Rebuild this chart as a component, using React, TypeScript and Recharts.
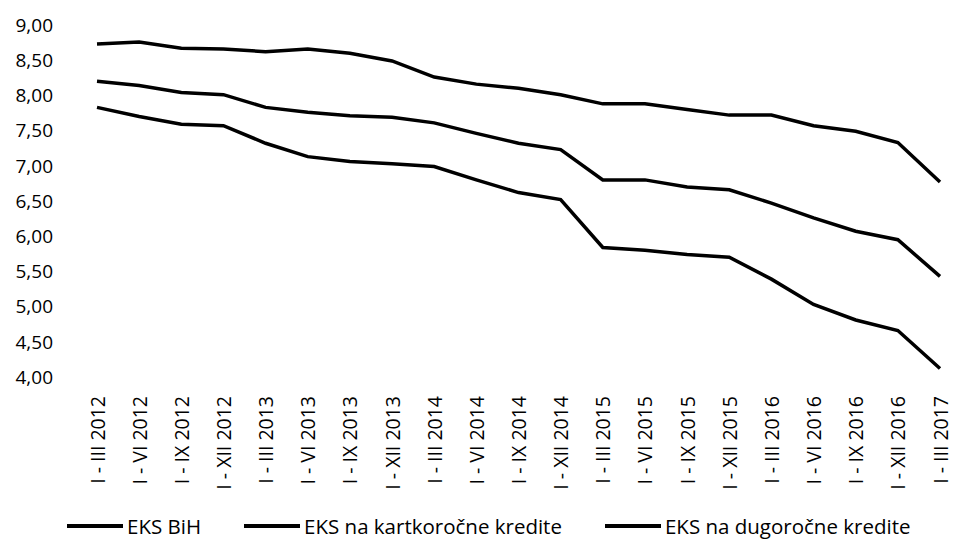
import { LineChart, Line, XAxis, YAxis, Legend } from 'recharts';

// ── Data ──────────────────────────────────────────────────────────────────────

const periods = [
  'I - III 2012', 'I - VI 2012', 'I - IX 2012', 'I - XII 2012',
  'I - III 2013', 'I - VI 2013', 'I - IX 2013', 'I - XII 2013',
  'I - III 2014', 'I - VI 2014', 'I - IX 2014', 'I - XII 2014',
  'I - III 2015', 'I - VI 2015', 'I - IX 2015', 'I - XII 2015',
  'I - III 2016', 'I - VI 2016', 'I - IX 2016', 'I - XII 2016',
  'I - III 2017',
];

const eksBih = [
  8.20, 8.14, 8.04, 8.01, 7.83, 7.76, 7.71, 7.69, 7.61, 7.46, 7.32,
  7.23, 6.80, 6.80, 6.70, 6.66, 6.47, 6.26, 6.07, 5.95, 5.43,
];

const eksKratkorocne = [
  8.73, 8.76, 8.67, 8.66, 8.62, 8.66, 8.60, 8.49, 8.26, 8.16, 8.10,
  8.01, 7.88, 7.88, 7.80, 7.72, 7.72, 7.57, 7.49, 7.33, 6.77,
];

const eksDugorocne = [
  7.83, 7.70, 7.59, 7.57, 7.32, 7.13, 7.06, 7.03, 6.99, 6.80, 6.62,
  6.52, 5.84, 5.80, 5.74, 5.70, 5.39, 5.03, 4.81, 4.66, 4.12,
];

const yTicks = [4, 4.5, 5, 5.5, 6, 6.5, 7, 7.5, 8, 8.5, 9];

// legend order as in the source chart
const seriesKeys  = ['bih', 'kratk', 'dug'];
const seriesNames = ['EKS BiH', 'EKS na kartkoročne kredite', 'EKS na dugoročne kredite'];

const chartData = periods.map((p, i) => ({
  period: p,
  bih:    eksBih[i],
  kratk:  eksKratkorocne[i],
  dug:    eksDugorocne[i],
}));

// ── Helpers ───────────────────────────────────────────────────────────────────

const FONT = '"Open Sans", sans-serif';

function fmt(v: number): string {
  return v.toFixed(2).replace('.', ',');
}

function RotatedTick({ x, y, payload }: any) {
  return (
    <text
      transform={`translate(${x},${y + 19}) rotate(-90)`}
      textAnchor="end"
      dominantBaseline="central"
      fontFamily={FONT}
      fontSize={19.5}
      fill="#000"
    >
      {payload.value}
    </text>
  );
}

function LegendContent() {
  return (
    <div
      style={{
        display: 'flex',
        flexWrap: 'nowrap',
        paddingLeft: 67,
        paddingTop: 14,
        fontFamily: FONT,
        fontSize: 20.5,
        lineHeight: '22px',
        color: '#000',
        whiteSpace: 'nowrap',
      }}
    >
      {seriesNames.map((name) => (
        <div
          key={name}
          style={{ display: 'flex', alignItems: 'center', flexShrink: 0, marginRight: 43 }}
        >
          <svg width={56} height={8} style={{ flexShrink: 0 }}>
            <line x1={0} y1={4} x2={56} y2={4} stroke="#000" strokeWidth={4} />
          </svg>
          <span style={{ marginLeft: 4 }}>{name}</span>
        </div>
      ))}
    </div>
  );
}

// ── Chart ─────────────────────────────────────────────────────────────────────

export default function App() {
  return (
    <div style={{ width: 954, height: 539, background: '#fff' }}>
      <style>{'body{margin:0;}'}</style>
      <LineChart
        width={954}
        height={539}
        data={chartData}
        margin={{ top: 25, right: 14, bottom: 0, left: 0 }}
      >
        <XAxis
          dataKey="period"
          interval={0}
          axisLine={false}
          tickLine={false}
          tickSize={0}
          tickMargin={0}
          height={124}
          padding={{ left: 21, right: 0 }}
          tick={<RotatedTick />}
        />
        <YAxis
          domain={[4, 9]}
          ticks={yTicks}
          interval={0}
          axisLine={false}
          tickLine={false}
          tickSize={0}
          tickMargin={23}
          width={76}
          tickFormatter={fmt}
          tick={{ fontSize: 19, fill: '#000', fontFamily: FONT }}
        />
        <Legend
          verticalAlign="bottom"
          height={38}
          wrapperStyle={{ width: 954, left: 0 }}
          content={<LegendContent />}
        />
        {seriesKeys.map((k, i) => (
          <Line
            key={k}
            dataKey={k}
            name={seriesNames[i]}
            stroke="#000"
            strokeWidth={3.5}
            dot={false}
            isAnimationActive={false}
          />
        ))}
      </LineChart>
    </div>
  );
}
